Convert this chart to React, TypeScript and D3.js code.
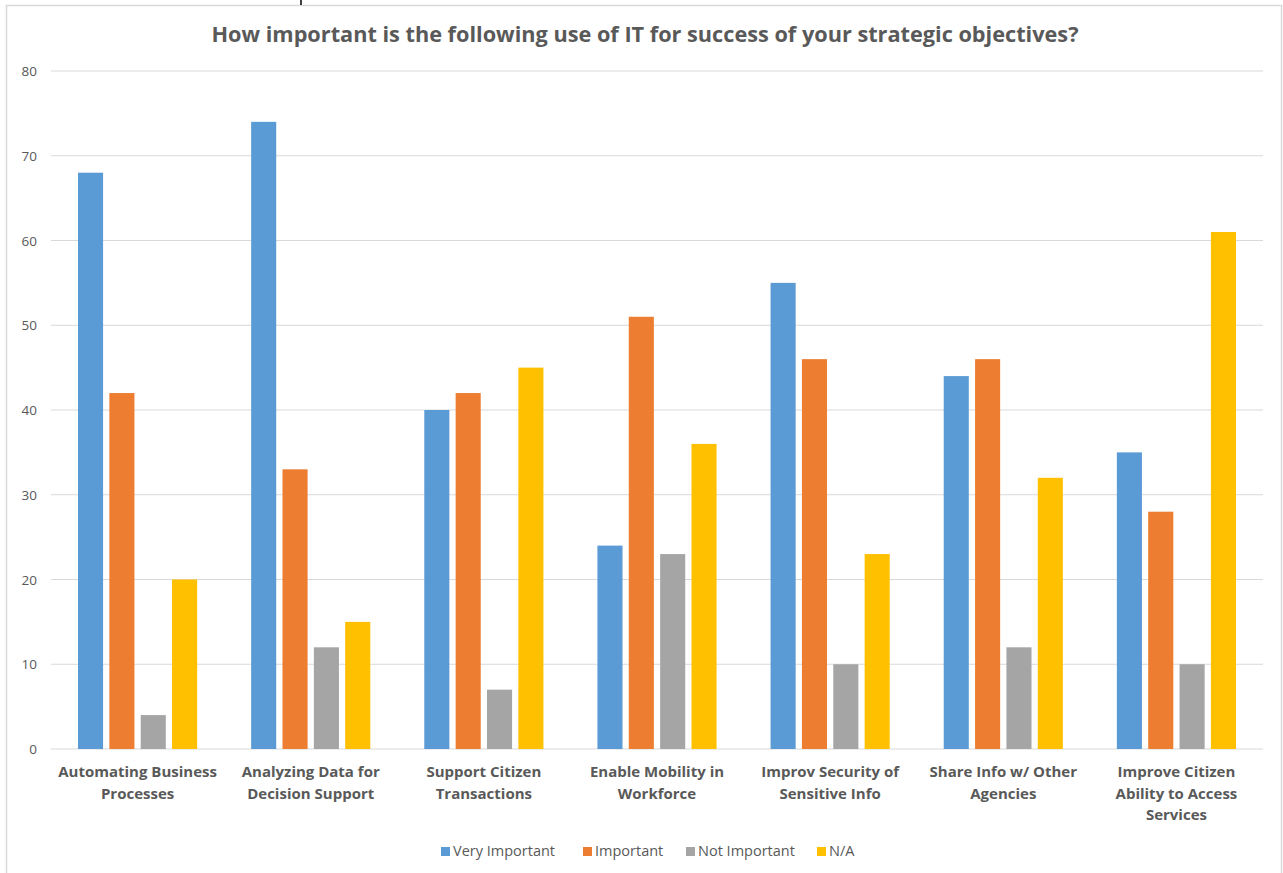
import React from "react";
import * as d3 from "d3";

const categories = [
  "Automating Business\nProcesses",
  "Analyzing Data for\nDecision Support",
  "Support Citizen\nTransactions",
  "Enable Mobility in\nWorkforce",
  "Improv Security of\nSensitive Info",
  "Share Info w/ Other\nAgencies",
  "Improve Citizen\nAbility to Access\nServices",
];
const seriesNames = ["Very Important", "Important", "Not Important", "N/A"];
const veryImportant = [68, 74, 40, 24, 55, 44, 35];
const important = [42, 33, 42, 51, 46, 46, 28];
const notImportant = [4, 12, 7, 23, 10, 12, 10];
const na = [20, 15, 45, 36, 23, 32, 61];
const yTicks = [0, 10, 20, 30, 40, 50, 60, 70, 80];
const colors = ["#5B9BD5", "#ED7D31", "#A5A5A5", "#FFC000"];
const title = "How important is the following use of IT for success of your strategic objectives?";

const W = 1283;
const H = 873;

export default function App() {
  const series = [veryImportant, important, notImportant, na];
  const x0 = d3
    .scaleBand<number>()
    .domain(d3.range(categories.length))
    .range([51, 1263])
    .paddingInner(0)
    .paddingOuter(0);
  const groupPad = 27;
  const x1 = d3
    .scaleBand<number>()
    .domain(d3.range(series.length))
    .range([groupPad, x0.bandwidth() - groupPad])
    .paddingInner(0.2)
    .paddingOuter(0);
  const y = d3.scaleLinear().domain([0, 80]).range([749, 71]);
  const font = "'Open Sans', 'Noto Sans', sans-serif";
  const textColor = "#595959";

  const legendX = [441, 583, 686, 817];

  return (
    <svg
      width={W}
      height={H}
      style={{ position: "absolute", left: 0, top: 0, background: "#fff" }}
    >
      <rect x={0} y={0} width={W} height={H} fill="#fff" />
      <rect
        x={6.5}
        y={5.5}
        width={1275}
        height={900}
        fill="none"
        stroke="#D9D9D9"
        strokeWidth={1.5}
      />
      <line x1={301} x2={301} y1={0} y2={5} stroke="#000" strokeWidth={1.5} />
      <text
        x={645}
        y={42}
        textAnchor="middle"
        fontFamily={font}
        fontWeight={700}
        fontSize={21}
        textLength={867}
        lengthAdjust="spacingAndGlyphs"
        fill={textColor}
      >
        {title}
      </text>
      {yTicks.map((t) => (
        <g key={t}>
          <line
            x1={51}
            x2={1263}
            y1={y(t)}
            y2={y(t)}
            stroke="#D9D9D9"
            strokeWidth={1.2}
          />
          <text
            x={37}
            y={y(t) + 5}
            textAnchor="end"
            fontFamily={font}
            fontSize={13.5}
            fill={textColor}
          >
            {t}
          </text>
        </g>
      ))}
      {categories.map((c, i) => (
        <g key={c} transform={`translate(${x0(i)},0)`}>
          {series.map((s, j) => (
            <rect
              key={j}
              x={x1(j)}
              y={y(s[i])}
              width={x1.bandwidth()}
              height={y(0) - y(s[i])}
              fill={colors[j]}
            />
          ))}
          <text
            textAnchor="middle"
            fontFamily={font}
            fontWeight={700}
            fontSize={15}
            fill={textColor}
          >
            {c.split("\n").map((line, k) => (
              <tspan key={k} x={x0.bandwidth() / 2} y={777 + k * 21.5}>
                {line}
              </tspan>
            ))}
          </text>
        </g>
      ))}
      {seriesNames.map((n, j) => (
        <g key={n}>
          <rect x={legendX[j]} y={847} width={9} height={9} fill={colors[j]} />
          <text
            x={legendX[j] + 12}
            y={856}
            fontFamily={font}
            fontSize={14.5}
            fill={textColor}
          >
            {n}
          </text>
        </g>
      ))}
    </svg>
  );
}
